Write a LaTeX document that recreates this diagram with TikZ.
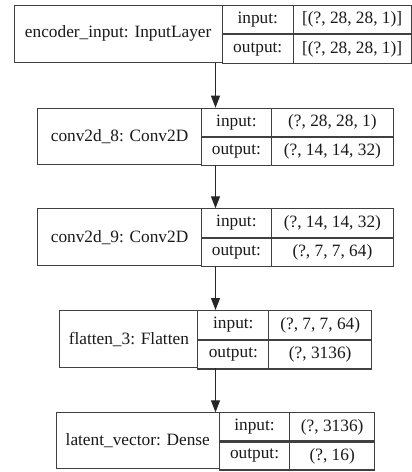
\documentclass[tikz,border=0pt]{standalone}
\usepackage{fontspec}
\setmainfont{Liberation Serif}
\usetikzlibrary{arrows.meta}
\tikzset{
  cell/.style={draw=black!75, line width=1.1pt, rectangle, inner sep=0pt, anchor=north west,
    font=\fontsize{17.3}{20}\selectfont, text=black!90},
  arr/.style={draw=black!85, line width=1.1pt, -{Triangle[length=12pt,width=9pt]}}
}
\def\myvals#1#2{\def\invalue{#1}\def\outvalue{#2}}
\newcommand\mylayer[9]{%
  \pgfmathsetmacro\wa{#3-#2}%
  \pgfmathsetmacro\wb{#4-#3}%
  \pgfmathsetmacro\wc{#5-#4}%
  \pgfmathsetmacro\hh{#7-#6}%
  \pgfmathsetmacro\hf{(#7-#6)/2}%
  \myvals#9%
  \node[cell, minimum width=\wa pt, minimum height=\hh pt] (#1t) at (#2pt,-#6pt) {#8};
  \node[cell, minimum width=\wb pt, minimum height=\hf pt] (#1il) at (#3pt,-#6pt) {input:};
  \node[cell, minimum width=\wb pt, minimum height=\hf pt] (#1ol) at (#1il.south west) {output:};
  \node[cell, minimum width=\wc pt, minimum height=\hf pt] (#1iv) at (#4pt,-#6pt) {\invalue};
  \node[cell, minimum width=\wc pt, minimum height=\hf pt] (#1ov) at (#1iv.south west) {\outvalue};
}
\begin{document}
\begin{tikzpicture}
\useasboundingbox (0,0) rectangle (412pt,-472pt);
\fill[white] (0,0) rectangle (412pt,-472pt);
\mylayer{a}{13.5}{221.7}{292.7}{410.5}{4.7}{61.7}{encoder\_input: InputLayer}{{[(?, 28, 28, 1)]}{[(?, 28, 28, 1)]}}
\mylayer{b}{37.3}{200.7}{271}{392.7}{107.7}{164}{conv2d\_8: Conv2D}{{(?, 28, 28, 1)}{(?, 14, 14, 32)}}
\mylayer{c}{37.3}{200.7}{271}{392.7}{208.3}{265}{conv2d\_9: Conv2D}{{(?, 14, 14, 32)}{(?, 7, 7, 64)}}
\mylayer{d}{59.3}{197.3}{268.3}{371}{310}{367.3}{flatten\_3: Flatten}{{(?, 7, 7, 64)}{(?, 3136)}}
\mylayer{e}{55.7}{218.7}{289.3}{374}{412.3}{468.3}{latent\_vector: Dense}{{(?, 3136)}{(?, 16)}}
\coordinate (ax) at (215.5pt,0);
\draw[arr] (at.south -| ax) -- (bt.north -| ax);
\draw[arr] (bt.south -| ax) -- (ct.north -| ax);
\draw[arr] (ct.south -| ax) -- (dt.north -| ax);
\draw[arr] (dt.south -| ax) -- (et.north -| ax);
\end{tikzpicture}
\end{document}
